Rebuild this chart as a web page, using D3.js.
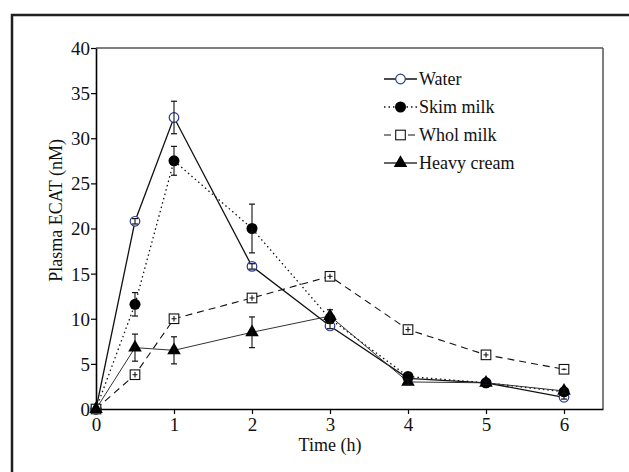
<!DOCTYPE html>
<html><head><meta charset="utf-8">
<script src="https://cdn.jsdelivr.net/npm/d3@7/dist/d3.min.js"></script>
<style>body{margin:0;background:#fff}svg{display:block}text{font-family:'Liberation Serif','Times New Roman',serif}</style>
</head><body>
<script>
const times = [0, 0.5, 1, 2, 3, 4, 5, 6];
const seriesNames = ["Water", "Skim milk", "Whol milk", "Heavy cream"];
const water = [0, 20.8, 32.3, 15.8, 9.2, 3.4, 2.9, 1.3];
const waterErr = [0, 0.3, 1.8, 0.3, 0.3, 0.2, 0.2, 0.2];
const skim = [0, 11.6, 27.5, 20.0, 10.0, 3.6, 2.9, 1.9];
const skimErr = [0, 1.3, 1.6, 2.7, 0.5, 0.3, 0.2, 0.3];
const whol = [0, 3.8, 10.0, 12.3, 14.7, 8.8, 6.0, 4.4];
const wholErr = [0, 0.3, 0.3, 0.3, 0.3, 0.3, 0.3, 0.1];
const heavy = [0, 6.8, 6.5, 8.5, 10.3, 3.0, 2.9, 2.0];
const heavyErr = [0, 1.5, 1.5, 1.7, 0.7, 0.3, 0.2, 0.3];
const xTicks = [0, 1, 2, 3, 4, 5, 6];
const yTicks = [0, 5, 10, 15, 20, 25, 30, 35, 40];

const W = 629, H = 472;
const svg = d3.select("body").append("svg").attr("width", W).attr("height", H);
const font = "Liberation Serif";

// outer frame
svg.append("rect").attr("x", 12).attr("y", 15).attr("width", 700).attr("height", 600)
  .attr("fill", "none").attr("stroke", "#231f20").attr("stroke-width", 2.5);

const x = d3.scaleLinear().domain([0, 6.5]).range([96, 603]);
const y = d3.scaleLinear().domain([0, 40]).range([409, 48]);

// plot box top/right
svg.append("line").attr("x1", x(0)).attr("x2", x(6.5)).attr("y1", y(40)).attr("y2", y(40))
  .attr("stroke", "#000").attr("stroke-width", 1.2);
svg.append("line").attr("x1", x(6.5)).attr("x2", x(6.5)).attr("y1", y(40)).attr("y2", y(0))
  .attr("stroke", "#555").attr("stroke-width", 1.5);

const xAxis = svg.append("g").attr("transform", `translate(0,${y(0)})`)
  .call(d3.axisBottom(x).tickValues(xTicks).tickSize(5).tickSizeOuter(0).tickFormat(d3.format("d")));
const yAxis = svg.append("g").attr("transform", `translate(${x(0)},0)`)
  .call(d3.axisLeft(y).tickValues(yTicks).tickSize(5).tickSizeOuter(0).tickFormat(d3.format("d")));
[xAxis, yAxis].forEach(a => {
  a.attr("font-family", font).attr("font-size", 19);
  a.select(".domain").attr("stroke", "#000").attr("stroke-width", 1.6);
  a.selectAll(".tick line").attr("stroke", "#000").attr("stroke-width", 1.2);
  a.selectAll("text").attr("font-family", font).attr("font-size", 19).attr("fill", "#111");
});
xAxis.selectAll("text").attr("y", 7).attr("dy", "0.8em");
yAxis.selectAll("text").attr("x", -6).attr("dy", "0.34em");

svg.append("text").attr("x", x(3)).attr("y", 451).attr("text-anchor", "middle")
  .attr("font-family", font).attr("font-size", 18).attr("fill", "#111").text("Time (h)");
svg.append("text").attr("transform", `translate(62,${y(22)}) rotate(-90)`).attr("text-anchor", "middle")
  .attr("font-family", font).attr("font-size", 18).attr("fill", "#111").text("Plasma ECAT (nM)");

const series = [
  {name: seriesNames[0], v: water, e: waterErr, dash: null, lw: 1.3, stroke: "#111", marker: "circleOpen", cap: 3},
  {name: seriesNames[1], v: skim, e: skimErr, dash: "1.5,3", lw: 1.3, stroke: "#111", marker: "circleFilled", cap: 3},
  {name: seriesNames[2], v: whol, e: wholErr, dash: "7,5", lw: 1.1, stroke: "#111", marker: "square", cap: 2.5},
  {name: seriesNames[3], v: heavy, e: heavyErr, dash: null, lw: 1.0, stroke: "#333", marker: "triangle", cap: 3}
];

const line = d3.line().x(d => x(d[0])).y(d => y(d[1]));

function drawMarker(g, type, cx, cy) {
  if (type === "circleOpen") {
    g.append("circle").attr("cx", cx).attr("cy", cy).attr("r", 4.8)
      .attr("fill", "#fff").attr("stroke", "#2b3990").attr("stroke-width", 1.2);
  } else if (type === "circleFilled") {
    g.append("circle").attr("cx", cx).attr("cy", cy).attr("r", 5.5).attr("fill", "#000");
  } else if (type === "square") {
    g.append("rect").attr("x", cx - 4.8).attr("y", cy - 4.8).attr("width", 9.6).attr("height", 9.6)
      .attr("fill", "#fff").attr("stroke", "#111").attr("stroke-width", 1.1);
  } else if (type === "triangle") {
    g.append("path").attr("d", d3.symbol().type(d3.symbolTriangle).size(80)())
      .attr("transform", `translate(${cx},${cy})`).attr("fill", "#000");
  }
}

// lines
series.forEach(s => {
  svg.append("path").datum(times.map((t, i) => [t, s.v[i]]))
    .attr("d", line).attr("fill", "none").attr("stroke", s.stroke)
    .attr("stroke-width", s.lw).attr("stroke-dasharray", s.dash);
});

// markers and error bars
series.forEach(s => {
  const g = svg.append("g");
  times.forEach((t, i) => {
    drawMarker(g, s.marker, x(t), y(s.v[i]));
  });
  times.forEach((t, i) => {
    if (!s.e[i]) return;
    const cx = x(t), y1 = y(s.v[i] + s.e[i]), y2 = y(s.v[i] - s.e[i]);
    g.append("line").attr("x1", cx).attr("x2", cx).attr("y1", y1).attr("y2", y2)
      .attr("stroke", "#111").attr("stroke-width", 1.1);
    if (s.marker === "square") {
      g.append("line").attr("x1", cx - s.cap).attr("x2", cx + s.cap)
        .attr("y1", y(s.v[i])).attr("y2", y(s.v[i])).attr("stroke", "#111").attr("stroke-width", 1);
    } else {
      [y1, y2].forEach(yy => g.append("line").attr("x1", cx - s.cap).attr("x2", cx + s.cap)
        .attr("y1", yy).attr("y2", yy).attr("stroke", "#111").attr("stroke-width", 1.2));
    }
  });
});

// legend
const legY = [79, 107, 135, 163];
series.forEach((s, i) => {
  const g = svg.append("g");
  g.append("line").attr("x1", 384).attr("x2", 417).attr("y1", legY[i]).attr("y2", legY[i])
    .attr("stroke", s.stroke).attr("stroke-width", s.marker === "triangle" ? 1.5 : s.lw)
    .attr("stroke-dasharray", s.dash);
  drawMarker(g, s.marker, 400.5, legY[i]);
  g.append("text").attr("x", 419).attr("y", legY[i]).attr("dy", "0.32em")
    .attr("font-family", font).attr("font-size", 18).attr("fill", "#111").text(s.name);
});
</script>
</body></html>
